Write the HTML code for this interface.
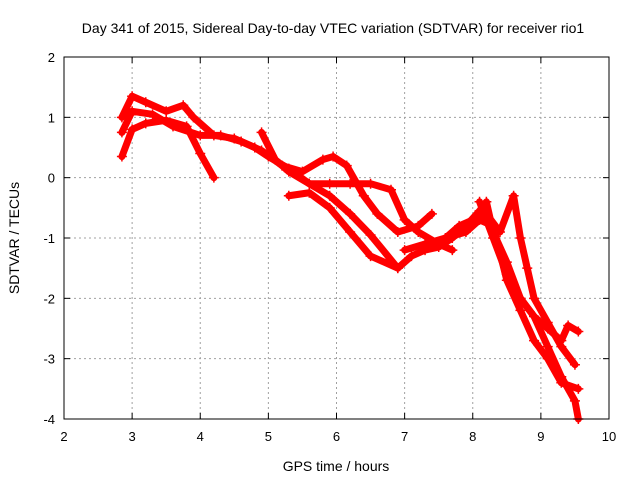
<!DOCTYPE html>
<html><head><meta charset="utf-8"><style>
body{margin:0;background:#fff}
svg{display:block;font-family:"Liberation Sans",sans-serif}
</style></head><body>
<svg id="c" width="640" height="480">
<text x="333" y="33" font-size="14" text-anchor="middle">Day 341 of 2015, Sidereal Day-to-day VTEC variation (SDTVAR) for receiver rio1</text>
<text x="336" y="471" font-size="14" text-anchor="middle">GPS time / hours</text>
<text transform="translate(19,238) rotate(-90)" font-size="14" text-anchor="middle">SDTVAR / TECUs</text>
<g id="grid"></g><g id="data"></g><g id="axes"></g>
</svg>
<script>
const xTicks=[2,3,4,5,6,7,8,9,10];
const yTicks=[2,1,0,-1,-2,-3,-4];
const t1=[[2.85,0.35],[3.0,0.8],[3.2,0.9],[3.5,0.95],[3.8,0.85],[4.0,0.4],[4.2,0.0]];
const t2=[[2.85,1.0],[3.0,1.35],[3.2,1.25],[3.5,1.1],[3.75,1.2],[3.9,1.0],[4.2,0.7],[4.5,0.65],[4.8,0.5],[5.0,0.35],[5.3,0.15],[5.6,-0.1],[5.9,-0.3],[6.2,-0.6],[6.5,-0.95],[6.9,-1.5]];
const t3=[[2.85,0.75],[3.0,1.1],[3.3,1.05],[3.6,0.85],[4.0,0.7],[4.3,0.7],[4.6,0.6],[4.9,0.45],[5.2,0.2],[5.5,0.1],[5.8,0.3],[5.95,0.35],[6.15,0.2],[6.4,-0.3],[6.6,-0.6],[6.9,-0.9],[7.2,-0.8],[7.4,-0.6]];
const t4=[[4.9,0.75],[5.1,0.3],[5.3,0.1],[5.6,-0.1],[5.9,-0.1],[6.2,-0.1],[6.5,-0.1],[6.8,-0.2],[7.0,-0.7],[7.2,-0.9],[7.5,-1.1],[7.7,-1.2]];
const t5=[[5.3,-0.3],[5.6,-0.25],[5.9,-0.5],[6.2,-0.9],[6.5,-1.3],[6.9,-1.5],[7.1,-1.3],[7.3,-1.2],[7.5,-1.15],[7.7,-1.0],[7.9,-0.8],[8.1,-0.55],[8.2,-0.4],[8.3,-0.9],[8.5,-1.4],[8.7,-2.0],[8.9,-2.3],[9.1,-2.8],[9.3,-3.3],[9.5,-3.7],[9.55,-4.0]];
const t6=[[7.6,-1.0],[7.8,-0.8],[8.0,-0.7],[8.2,-0.6],[8.4,-0.9],[8.6,-0.3],[8.7,-1.0],[8.8,-1.5],[8.9,-2.0],[9.1,-2.4],[9.3,-2.8],[9.5,-3.1]];
const t7=[[8.1,-0.4],[8.3,-1.0],[8.5,-1.6],[8.7,-2.0],[8.9,-2.3],[9.1,-2.5],[9.3,-2.7],[9.4,-2.45],[9.55,-2.55]];
const t8=[[7.0,-1.2],[7.3,-1.1],[7.6,-1.0],[7.9,-0.9],[8.1,-0.7],[8.3,-0.8],[8.5,-1.7],[8.7,-2.2],[8.9,-2.7],[9.1,-3.0],[9.3,-3.4],[9.55,-3.5]];
const tracks=[t1,t2,t3,t4,t5,t6,t7,t8];
const X0=64,X1=609,Y0=57,Y1=419;
const sx=v=>X0+(v-2)/8*(X1-X0);
const sy=v=>Y0+(2-v)/6*(Y1-Y0);
const NS="http://www.w3.org/2000/svg";
function mk(tag,a,parent){const e=document.createElementNS(NS,tag);for(const k in a)e.setAttribute(k,a[k]);parent.appendChild(e);return e;}
const grid=document.getElementById('grid'),axes=document.getElementById('axes'),data=document.getElementById('data');
xTicks.forEach(t=>{const x=sx(t);
 if(t>2&&t<10){const g=mk('line',{x1:x,x2:x,y1:Y0,y2:Y1,stroke:'#a0a0a0','stroke-dasharray':'2,3'},grid);
 
 }
 const l=mk('text',{x:x,y:Y1+22,'font-size':13,'text-anchor':'middle'},axes);l.textContent=t;
 
 
 mk('line',{x1:x,x2:x,y1:Y1,y2:Y1-6,stroke:'#000'},axes);mk('line',{x1:x,x2:x,y1:Y0,y2:Y0+6,stroke:'#000'},axes);});
yTicks.forEach(t=>{const y=sy(t);
 if(t<2&&t>-4){const g=mk('line',{x1:X0,x2:X1,y1:y,y2:y,stroke:'#a0a0a0','stroke-dasharray':'2,3'},grid);
 
 }
 const l=mk('text',{x:X0-9,y:y+5,'font-size':13,'text-anchor':'end'},axes);l.textContent=t;
 
 
 mk('line',{x1:X0,x2:X0+6,y1:y,y2:y,stroke:'#000'},axes);mk('line',{x1:X1,x2:X1-6,y1:y,y2:y,stroke:'#000'},axes);});
const fr=mk('rect',{x:X0,y:Y0,width:X1-X0,height:Y1-Y0,fill:'none',stroke:'#000'},axes);


tracks.forEach((tr,i)=>{
 const p=mk('polyline',{points:tr.map(d=>sx(d[0])+','+sy(d[1])).join(' '),fill:'none',stroke:'#ff0000','stroke-width':7,'stroke-linejoin':'round','stroke-linecap':'round'},data);
 
 
 tr.forEach(d=>{const x=sx(d[0]),y=sy(d[1]);
  const m=mk('path',{d:`M${x-5},${y}H${x+5}M${x},${y-5}V${y+5}`,stroke:'#ff0000','stroke-width':1.5},data);
  
  });
});
</script>
</body></html>
